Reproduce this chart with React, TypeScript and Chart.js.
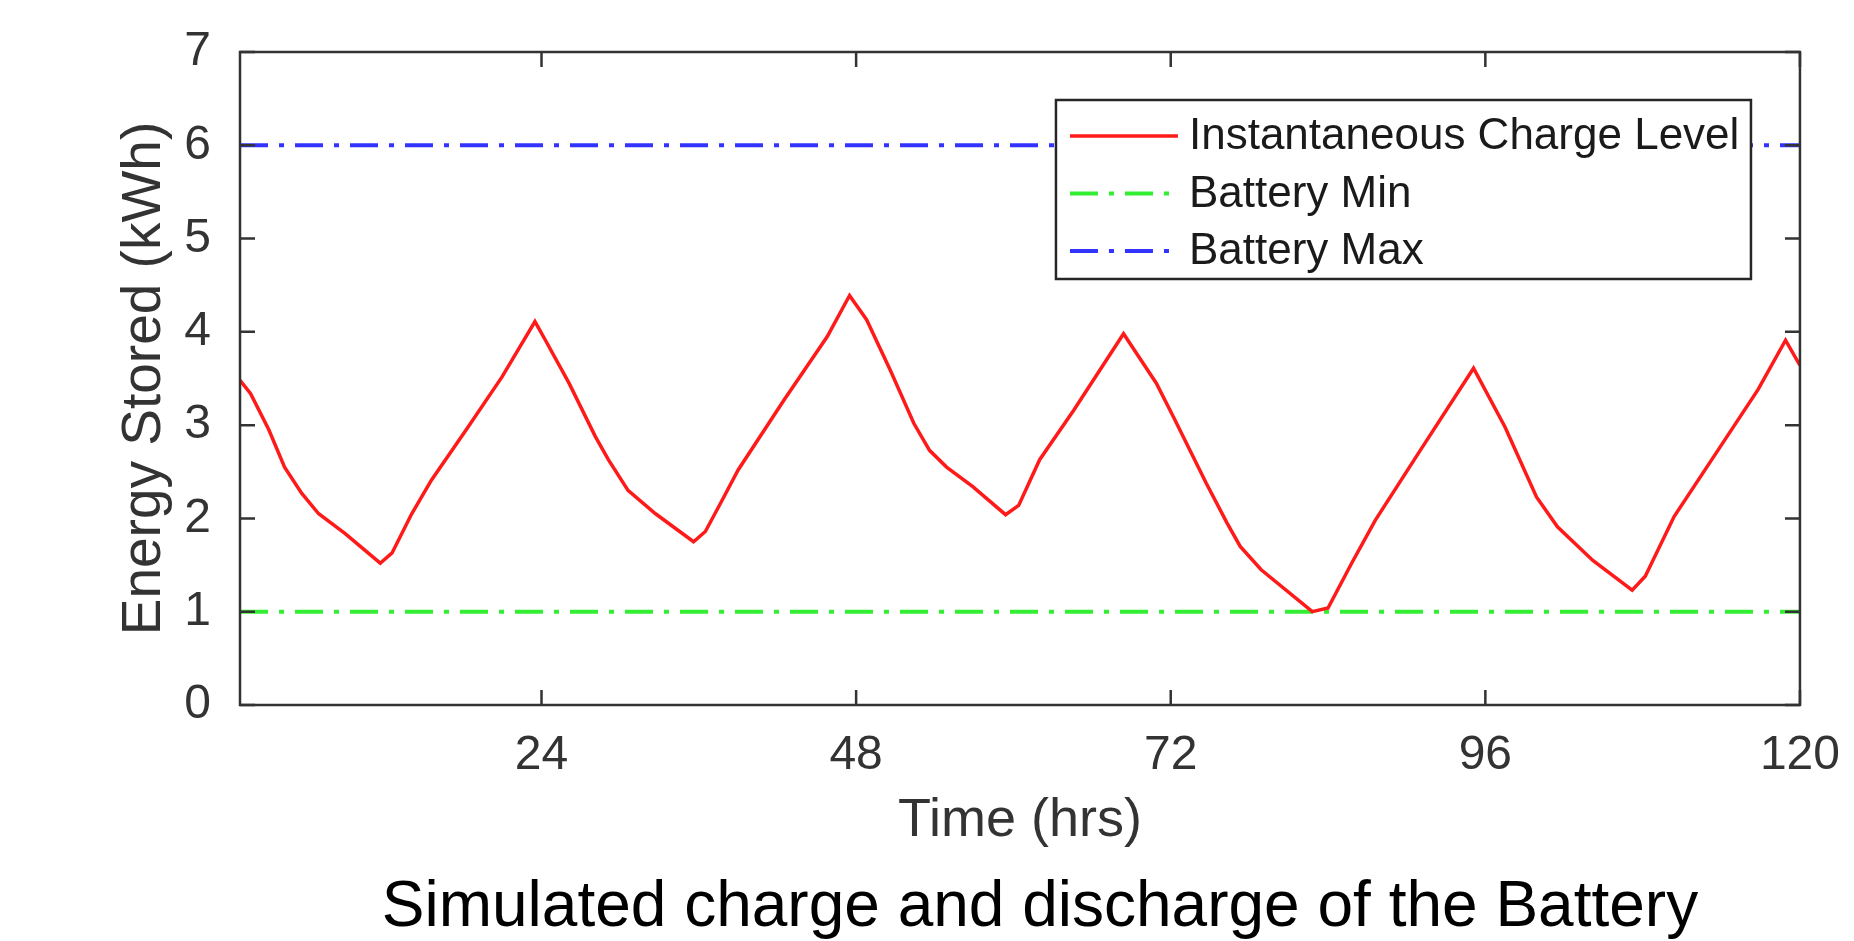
import React, { useEffect, useRef } from 'react';
import { Chart, registerables } from 'chart.js';

Chart.register(...registerables);

// ---- data ----
const HOURS = [
  1, 1.8, 3.2, 4.4, 5.7, 7.0, 9.0, 11.7, 12.6, 14.1,
  15.6, 18.4, 21.0, 23.5, 24.3, 26.1, 28.1, 29.1, 30.6, 32.7,
  35.6, 36.5, 37.8, 39.0, 42.5, 45.8, 47.5, 48.8, 50.6, 52.4,
  53.6, 54.9, 56.9, 59.4, 60.4, 62.0, 64.6, 68.4, 70.9, 72.2,
  74.7, 76.3, 77.3, 78.9, 82.8, 84.0, 85.8, 87.6, 90.9, 95.1,
  97.5, 99.9, 101.5, 104.2, 107.2, 108.2, 110.4, 113.6, 116.8, 118.9,
  120,
];
const CHARGE = [
  3.48, 3.34, 2.95, 2.55, 2.27, 2.05, 1.84, 1.52, 1.63, 2.05,
  2.41, 2.98, 3.52, 4.11, 3.91, 3.45, 2.88, 2.63, 2.3, 2.05,
  1.75, 1.86, 2.2, 2.52, 3.27, 3.95, 4.39, 4.13, 3.59, 3.02,
  2.73, 2.55, 2.34, 2.04, 2.14, 2.63, 3.16, 3.98, 3.45, 3.09,
  2.38, 1.95, 1.7, 1.45, 1.0, 1.04, 1.52, 1.98, 2.7, 3.61,
  2.98, 2.23, 1.91, 1.55, 1.23, 1.38, 2.02, 2.7, 3.38, 3.91,
  3.64,
];
const BATTERY_MIN = 1;
const BATTERY_MAX = 6;
const X_RANGE = [1, 120];
const Y_RANGE = [0, 7];
const X_TICKS = [24, 48, 72, 96, 120];
const Y_TICKS = [0, 1, 2, 3, 4, 5, 6, 7];
const SERIES_LABELS = ['Instantaneous Charge Level', 'Battery Min', 'Battery Max'];
const X_TITLE = 'Time (hrs)';
const Y_TITLE = 'Energy Stored (kWh)';
const CAPTION = 'Simulated charge and discharge of the Battery';

// ---- styles ----
const FONT = "'Liberation Sans', Arial, Helvetica, sans-serif";
const RED = '#ff1a1a';
const GREEN = '#33ee33';
const BLUE = '#3333ff';
const AXIS_COLOR = '#333333';
const TEXT_COLOR = '#333333';
const DASH_DOT = [28, 11, 5, 11];
const TICK_LEN = 15;

const boxPlugin = {
  id: 'matlabBox',
  afterDatasetsDraw(chart: any) {
    const { ctx, chartArea: a, scales } = chart;
    ctx.save();
    ctx.strokeStyle = AXIS_COLOR;
    ctx.lineWidth = 2.5;
    ctx.setLineDash([]);
    ctx.beginPath();
    for (const t of scales.x.ticks) {
      const px = scales.x.getPixelForValue(t.value);
      ctx.moveTo(px, a.bottom);
      ctx.lineTo(px, a.bottom - TICK_LEN);
      ctx.moveTo(px, a.top);
      ctx.lineTo(px, a.top + TICK_LEN);
    }
    for (const t of scales.y.ticks) {
      const py = scales.y.getPixelForValue(t.value);
      ctx.moveTo(a.left, py);
      ctx.lineTo(a.left + TICK_LEN, py);
      ctx.moveTo(a.right, py);
      ctx.lineTo(a.right - TICK_LEN, py);
    }
    ctx.stroke();
    ctx.strokeRect(a.left, a.top, a.right - a.left, a.bottom - a.top);
    ctx.restore();
  },
};

const legendPlugin = {
  id: 'insideLegend',
  afterDraw(chart: any) {
    const { ctx, chartArea: a } = chart;
    const w = 695;
    const h = 179;
    const left = a.right - 744;
    const top = a.top + 48;
    ctx.save();
    ctx.fillStyle = '#ffffff';
    ctx.fillRect(left, top, w, h);
    ctx.strokeStyle = '#262626';
    ctx.lineWidth = 2.5;
    ctx.setLineDash([]);
    ctx.strokeRect(left, top, w, h);
    chart.data.datasets.forEach((ds: any, i: number) => {
      const y = top + 36 + i * 57.5;
      ctx.beginPath();
      ctx.strokeStyle = ds.borderColor;
      ctx.lineWidth = ds.borderWidth;
      ctx.setLineDash(ds.borderDash || []);
      ctx.moveTo(left + 14, y);
      ctx.lineTo(left + 122, y);
      ctx.stroke();
      ctx.setLineDash([]);
      ctx.fillStyle = '#1a1a1a';
      ctx.font = `44px ${FONT}`;
      ctx.textAlign = 'left';
      ctx.textBaseline = 'middle';
      ctx.fillText(ds.label, left + 133, y + 1);
    });
    ctx.restore();
  },
};

const captionPlugin = {
  id: 'caption',
  afterDraw(chart: any) {
    const { ctx, chartArea: a } = chart;
    ctx.save();
    ctx.fillStyle = '#000000';
    ctx.font = `64px ${FONT}`;
    ctx.textAlign = 'center';
    ctx.textBaseline = 'middle';
    ctx.fillText(CAPTION, (a.left + a.right) / 2 + 20, a.bottom + 203);
    ctx.restore();
  },
};

export default function App() {
  const ref = useRef<HTMLCanvasElement | null>(null);

  useEffect(() => {
    if (!ref.current) return;
    Chart.defaults.font.family = FONT;
    const chart = new Chart(ref.current, {
      type: 'line',
      data: {
        datasets: [
          {
            label: SERIES_LABELS[0],
            data: HOURS.map((h, i) => ({ x: h, y: CHARGE[i] })),
            borderColor: RED,
            borderWidth: 3.5,
            pointRadius: 0,
            tension: 0,
            fill: false,
          },
          {
            label: SERIES_LABELS[1],
            data: [
              { x: X_RANGE[0], y: BATTERY_MIN },
              { x: X_RANGE[1], y: BATTERY_MIN },
            ],
            borderColor: GREEN,
            borderWidth: 4,
            borderDash: DASH_DOT,
            pointRadius: 0,
            fill: false,
          },
          {
            label: SERIES_LABELS[2],
            data: [
              { x: X_RANGE[0], y: BATTERY_MAX },
              { x: X_RANGE[1], y: BATTERY_MAX },
            ],
            borderColor: BLUE,
            borderWidth: 4,
            borderDash: DASH_DOT,
            pointRadius: 0,
            fill: false,
          },
        ],
      },
      options: {
        responsive: false,
        animation: false,
        events: [],
        layout: { padding: { left: 0, top: 52, right: 47, bottom: 87 } },
        plugins: {
          legend: { display: false },
          title: { display: false },
          tooltip: { enabled: false },
        },
        scales: {
          x: {
            type: 'linear',
            min: X_RANGE[0],
            max: X_RANGE[1],
            afterBuildTicks: (s: any) => {
              s.ticks = X_TICKS.map((v) => ({ value: v }));
            },
            afterFit: (s: any) => {
              s.height = 149;
            },
            grid: { display: false },
            border: { display: false },
            ticks: {
              autoSkip: false,
              maxRotation: 0,
              padding: 14,
              color: TEXT_COLOR,
              font: { size: 48, family: FONT },
            },
            title: {
              display: true,
              text: X_TITLE,
              color: TEXT_COLOR,
              font: { size: 54, family: FONT },
              padding: { top: 0, bottom: 0 },
            },
          },
          y: {
            type: 'linear',
            min: Y_RANGE[0],
            max: Y_RANGE[1],
            afterBuildTicks: (s: any) => {
              s.ticks = Y_TICKS.map((v) => ({ value: v }));
            },
            afterFit: (s: any) => {
              s.width = 240;
            },
            grid: { display: false },
            border: { display: false },
            ticks: {
              autoSkip: false,
              padding: 21,
              color: TEXT_COLOR,
              font: { size: 48, family: FONT },
            },
            title: {
              display: true,
              text: Y_TITLE,
              color: TEXT_COLOR,
              font: { size: 55, family: FONT },
              padding: { top: 112, bottom: 0 },
            },
          },
        },
      },
      plugins: [boxPlugin, legendPlugin, captionPlugin],
    } as any);
    return () => chart.destroy();
  }, []);

  return (
    <div style={{ position: 'fixed', left: 0, top: 0, width: 1854, height: 941, background: '#fff' }}>
      <canvas ref={ref} width={1854} height={941} style={{ width: 1854, height: 941, display: 'block' }} />
    </div>
  );
}
